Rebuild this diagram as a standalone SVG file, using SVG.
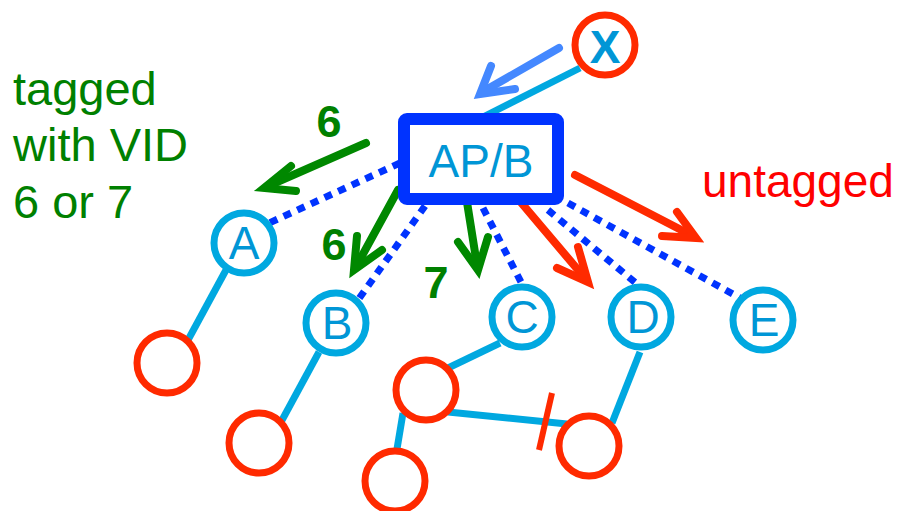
<svg xmlns="http://www.w3.org/2000/svg" width="901" height="511" viewBox="0 0 901 511">
<style>
.lbl{font-family:"Liberation Sans",Arial,sans-serif}
.node{fill:#fff;stroke:#00a8e0;stroke-width:7}
.host{fill:#fff;stroke:#ff2a00;stroke-width:7}
.nt{font-size:46px;fill:#0096d6;text-anchor:middle}
.link{stroke:#00a8e0;stroke-width:7;fill:none}
.dot{stroke:#0033ff;stroke-width:7;stroke-dasharray:8 7;fill:none}
.ga{stroke:#008800;stroke-width:8;fill:none;stroke-linecap:round;stroke-linejoin:miter}
.ra{stroke:#ff2a00;stroke-width:8;fill:none;stroke-linecap:round}
.green{fill:#008000}
.num{font-size:45px;font-weight:bold;text-anchor:middle}
</style>
<g id="connectors">
<line class="dot" x1="400" y1="163" x2="267" y2="224"/>
<line class="dot" x1="425" y1="206" x2="358" y2="300"/>
<line class="dot" x1="483" y1="208" x2="522" y2="284"/>
<line class="dot" x1="548" y1="210" x2="637" y2="284"/>
<line class="dot" x1="568" y1="203" x2="740" y2="298"/>
<line class="link" x1="580" y1="68" x2="483" y2="117"/>
<line class="link" x1="226" y1="270" x2="188" y2="340"/>
<line class="link" x1="319" y1="352" x2="281" y2="422"/>
<line class="link" x1="500" y1="343" x2="448" y2="368"/>
<line class="link" x1="403" y1="413" x2="397" y2="449"/>
<line class="link" x1="448" y1="412" x2="567" y2="424"/>
<line class="link" x1="640" y1="352" x2="612" y2="423"/>
<line x1="552" y1="393" x2="539" y2="450" stroke="#ff2a00" stroke-width="6"/>
<g id="arrow-x" stroke="#4488ff" stroke-width="8" fill="none" stroke-linecap="round">
<line x1="559" y1="48" x2="484" y2="91"/>
<polyline points="491,66 480,94 515,89" stroke-linejoin="miter"/>
</g>
<g id="arrow-a" class="ga">
<line x1="366" y1="143" x2="268" y2="186"/>
<polyline points="291,166 264,188 296,191"/>
</g>
<g id="arrow-b" class="ga">
<line x1="398" y1="190" x2="357" y2="265"/>
<polyline points="357,236 354,270 382,250"/>
</g>
<g id="arrow-c" class="ga">
<line x1="463" y1="177" x2="477" y2="265"/>
<polyline points="458,242 478,270 488,237"/>
</g>
<g id="arrow-d" class="ra">
<line x1="513" y1="193" x2="584" y2="277"/>
<polyline points="557,268 588,282 578,247"/>
</g>
<g id="arrow-e" class="ra">
<line x1="575" y1="175" x2="691" y2="235"/>
<polyline points="662,236 696,238 677,212"/>
</g>
</g>
<g id="apb">
<rect x="404" y="119" width="154" height="80" rx="3" fill="#fff" stroke="#0033ff" stroke-width="12"/>
<text class="lbl nt" x="481" y="177">AP/B</text>
</g>
<g id="x">
<circle class="host" cx="605" cy="45" r="30"/>
<text class="lbl" x="605" y="63" font-size="46" font-weight="bold" fill="#0096d6" text-anchor="middle">X</text>
</g>
<g id="A"><circle class="node" cx="244" cy="243" r="30"/><text class="lbl nt" x="244" y="259">A</text></g>
<g id="B"><circle class="node" cx="336" cy="323" r="30"/><text class="lbl nt" x="337" y="339">B</text></g>
<g id="C"><circle class="node" cx="522" cy="317" r="30"/><text class="lbl nt" x="522" y="333">C</text></g>
<g id="D"><circle class="node" cx="641" cy="317" r="30"/><text class="lbl nt" x="643" y="333">D</text></g>
<g id="E"><circle class="node" cx="763" cy="320" r="30"/><text class="lbl nt" x="764" y="336">E</text></g>
<g id="h1"><circle class="host" cx="167" cy="363" r="30"/></g>
<g id="h2"><circle class="host" cx="259" cy="443" r="30"/></g>
<g id="h3"><circle class="host" cx="426" cy="390" r="30"/></g>
<g id="h4"><circle class="host" cx="395" cy="481" r="30"/></g>
<g id="h5"><circle class="host" cx="589" cy="446" r="30"/></g>
<g id="labels">
<text class="lbl green" font-size="47" x="13" y="105">tagged</text>
<text class="lbl green" font-size="47" x="13" y="161">with VID</text>
<text class="lbl green" font-size="47" x="13" y="218">6 or 7</text>
<text class="lbl green num" x="329" y="137">6</text>
<text class="lbl green num" x="334" y="260">6</text>
<text class="lbl green num" x="436" y="298">7</text>
<text class="lbl" font-size="46" fill="#ff0000" x="702" y="197">untagged</text>
</g>
</svg>
